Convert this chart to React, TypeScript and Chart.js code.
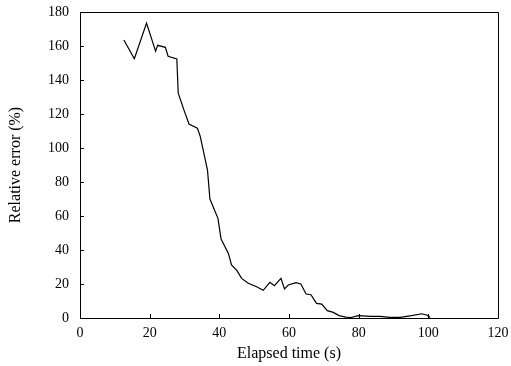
import React, { useEffect, useRef } from "react";
import { Chart, registerables } from "chart.js";

Chart.register(...registerables);

const elapsedTime: number[] = [
  12.6, 15.6, 19.1, 21.7, 22.3, 24.5, 25.3, 27.8, 28.2, 29.9, 31.3, 33.7, 34.5,
  36.6, 37.3, 39.6, 40.5, 42.6, 43.5, 45.0, 46.4, 48.3, 50.7, 52.6, 54.5, 55.8,
  57.7, 58.7, 59.8, 62.0, 63.4, 64.9, 66.3, 67.9, 69.4, 71.0, 72.7, 74.4, 76.3,
  77.8, 79.9, 83.3, 86.1, 89.0, 91.9, 95.2, 98.1, 99.7, 100.5,
];
const relativeError: number[] = [
  163.5, 152.5, 173.5, 157, 160.4, 159.2, 154, 152.4, 132.2, 122, 114.1, 111.6,
  107, 87, 70, 58.6, 46.5, 38, 31.2, 28, 23.3, 20.4, 18.4, 16.3, 21, 19, 23.3,
  17.1, 19.4, 20.8, 20, 14.1, 13.7, 8.6, 8.2, 4.3, 3.3, 1.4, 0.5, 0.3, 1.4, 0.9,
  1, 0.4, 0.4, 1.4, 2.5, 1.6, 0.3,
];
const xTicks: number[] = [0, 20, 40, 60, 80, 100, 120];
const yTicks: number[] = [0, 20, 40, 60, 80, 100, 120, 140, 160, 180];

const FONT = "'Liberation Serif', 'Times New Roman', serif";

const boxPlugin = {
  id: "boxTicks",
  afterDraw(chart: any) {
    const { ctx, chartArea, scales } = chart;
    const { left, right, top, bottom } = chartArea;
    ctx.save();
    ctx.strokeStyle = "#000";
    ctx.lineWidth = 1;
    ctx.beginPath();
    ctx.rect(Math.round(left) + 0.5, Math.round(top) + 0.5, Math.round(right - left), Math.round(bottom - top));
    ctx.stroke();
    const tl = 4;
    ctx.beginPath();
    for (const v of xTicks) {
      const x = Math.round(scales.x.getPixelForValue(v)) + 0.5;
      ctx.moveTo(x, bottom);
      ctx.lineTo(x, bottom - tl);
    }
    for (const v of yTicks) {
      const y = Math.round(scales.y.getPixelForValue(v)) + 0.5;
      ctx.moveTo(left, y);
      ctx.lineTo(left + tl, y);
    }
    ctx.stroke();
    ctx.restore();
  },
};

export default function App() {
  const ref = useRef<HTMLCanvasElement>(null);
  useEffect(() => {
    const canvas = ref.current;
    if (!canvas) return;
    const chart = new Chart(canvas, {
      type: "line",
      data: {
        datasets: [
          {
            data: elapsedTime.map((x, i) => ({ x, y: relativeError[i] })),
            borderColor: "#000",
            borderWidth: 1.2,
            pointRadius: 0,
            tension: 0,
            fill: false,
          },
        ],
      },
      options: {
        animation: false,
        responsive: false,
        maintainAspectRatio: false,
        layout: { padding: { top: 12, right: 13, left: 0, bottom: 0 } },
        plugins: { legend: { display: false }, tooltip: { enabled: false } },
        scales: {
          x: {
            type: "linear",
            min: 0,
            max: 120,
            afterBuildTicks: (s: any) => {
              s.ticks = xTicks.map((v) => ({ value: v }));
            },
            afterFit: (s: any) => {
              s.height = 48;
              s.paddingLeft = 0;
              s.paddingRight = 0;
            },
            grid: { display: false, drawTicks: false },
            border: { display: false },
            ticks: {
              color: "#000",
              padding: 7,
              font: { family: FONT, size: 14 },
              maxRotation: 0,
            },
            title: {
              display: true,
              text: "Elapsed time (s)",
              color: "#000",
              font: { family: FONT, size: 16 },
              padding: { top: 0, bottom: 3 },
            },
          },
          y: {
            type: "linear",
            min: 0,
            max: 180,
            afterBuildTicks: (s: any) => {
              s.ticks = yTicks.map((v) => ({ value: v }));
            },
            afterFit: (s: any) => {
              s.width = 80;
              s.paddingTop = 0;
              s.paddingBottom = 0;
            },
            grid: { display: false, drawTicks: false },
            border: { display: false },
            ticks: {
              color: "#000",
              padding: 11,
              font: { family: FONT, size: 14 },
            },
            title: {
              display: true,
              text: "Relative error (%)",
              color: "#000",
              font: { family: FONT, size: 16 },
              padding: { top: 6, bottom: 0 },
            },
          },
        },
      },
      plugins: [boxPlugin],
    } as any);
    return () => chart.destroy();
  }, []);
  return (
    <div style={{ position: "fixed", left: 0, top: 0, width: 511, height: 366, background: "#fff" }}>
      <canvas ref={ref} width={511} height={366} style={{ width: 511, height: 366, display: "block" }} />
    </div>
  );
}
